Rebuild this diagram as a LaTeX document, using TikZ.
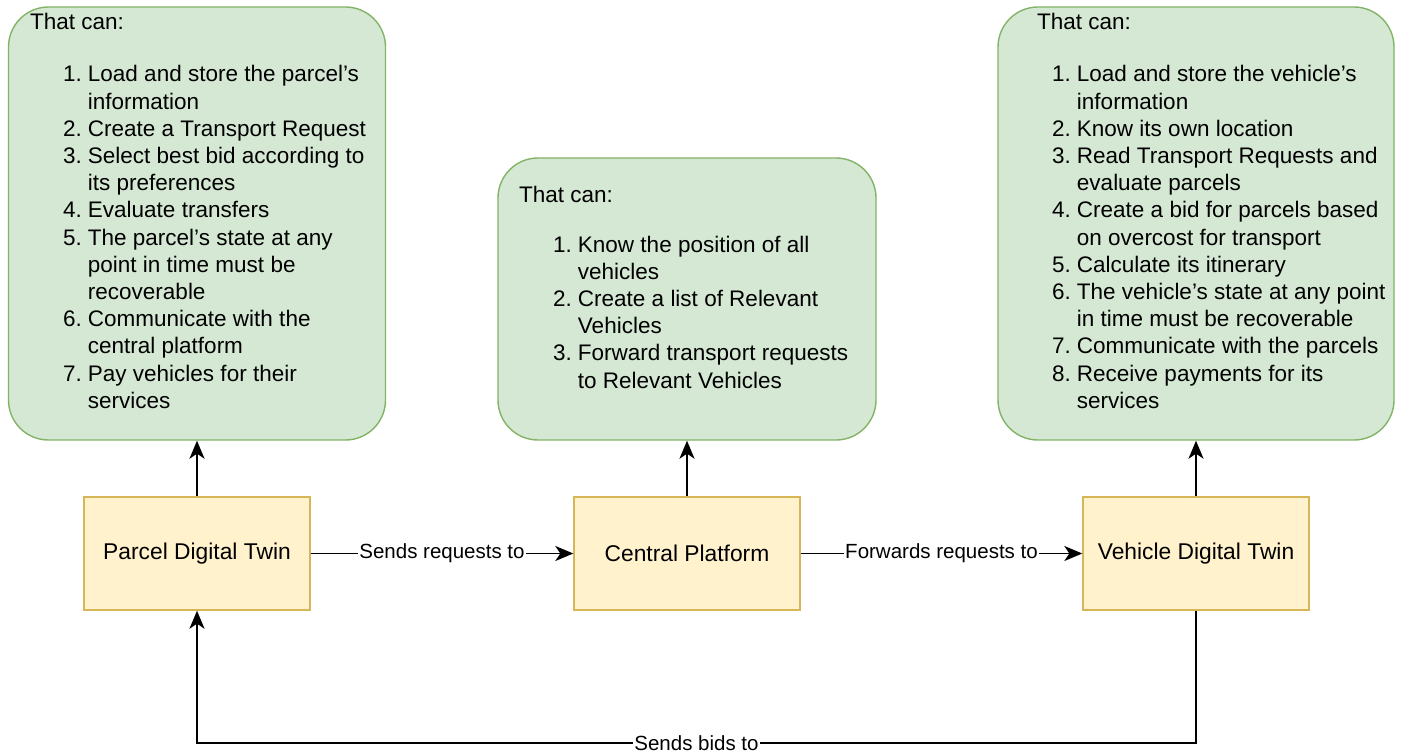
\documentclass[tikz,border=0pt]{standalone}
\usepackage{fontspec}
\setmainfont{Liberation Sans}
\usetikzlibrary{arrows.meta}
\definecolor{capfill}{HTML}{D5E8D4}
\definecolor{capline}{HTML}{82B366}
\definecolor{twinfill}{HTML}{FFF2CC}
\definecolor{twinline}{HTML}{D6B656}
\newcommand{\listfont}{\fontsize{22.5}{27.2}\selectfont}
\begin{document}
\begin{tikzpicture}[x=1pt,y=-1pt,
  capbox/.style={draw=capline,fill=capfill,line width=1.4pt,rounded corners=40pt,inner sep=0pt},
  twinbox/.style={draw=twinline,fill=twinfill,line width=1.4pt,minimum width=226pt,minimum height=113pt,
    inner sep=0pt,font=\fontsize{22.8}{27}\selectfont},
  headtxt/.style={anchor=base west,inner sep=0pt,font=\listfont},
  listtxt/.style={anchor=base west,inner sep=0pt,font=\listfont},
  arr/.style={line width=1.8pt,-{Stealth[length=18pt,width=15pt,inset=5pt]}},
  lbl/.style={fill=white,inner sep=1pt,font=\fontsize{20.5}{24}\selectfont}]
\useasboundingbox (0,0) rectangle (1402,754);

% capability panels
\node[capbox,minimum width=377pt,minimum height=433pt] (pcap) at (197,223.5) {};
\node[capbox,minimum width=378pt,minimum height=282pt] (ccap) at (687,299) {};
\node[capbox,minimum width=396pt,minimum height=433pt] (vcap) at (1196,223.5) {};

\node[headtxt] (phead) at (30,30) {That can:};
\node[listtxt] (plist) at (63,82) {\begin{tabular}[t]{@{}r@{\hspace{6pt}}l@{}}
1. & Load and store the parcel's\\
   & information\\
2. & Create a Transport Request\\
3. & Select best bid according to\\
   & its preferences\\
4. & Evaluate transfers\\
5. & The parcel's state at any\\
   & point in time must be\\
   & recoverable\\
6. & Communicate with the\\
   & central platform\\
7. & Pay vehicles for their\\
   & services
\end{tabular}};

\node[headtxt] (chead) at (519,203) {That can:};
\node[listtxt] (clist) at (553,252) {\begin{tabular}[t]{@{}r@{\hspace{6pt}}l@{}}
1. & Know the position of all\\
   & vehicles\\
2. & Create a list of Relevant\\
   & Vehicles\\
3. & Forward transport requests\\
   & to Relevant Vehicles
\end{tabular}};

\node[headtxt] (vhead) at (1037,30) {That can:};
\node[listtxt] (vlist) at (1052,82) {\begin{tabular}[t]{@{}r@{\hspace{6pt}}l@{}}
1. & Load and store the vehicle's\\
   & information\\
2. & Know its own location\\
3. & Read Transport Requests and\\
   & evaluate parcels\\
4. & Create a bid for parcels based\\
   & on overcost for transport\\
5. & Calculate its itinerary\\
6. & The vehicle's state at any point\\
   & in time must be recoverable\\
7. & Communicate with the parcels\\
8. & Receive payments for its\\
   & services
\end{tabular}};

% digital twins and platform
\node[twinbox] (parcel) at (197,553.5) {Parcel Digital Twin};
\node[twinbox] (central) at (687,553.5) {Central Platform};
\node[twinbox] (vehicle) at (1196,553.5) {Vehicle Digital Twin};

% connectors
\draw[arr] (parcel.north) -- (pcap.south);
\draw[arr] (central.north) -- (ccap.south);
\draw[arr] (vehicle.north) -- (vcap.south);
\draw[arr] (parcel.east) -- node[lbl] {Sends requests to} (central.west);
\draw[arr] (central.east) -- node[lbl] {Forwards requests to} (vehicle.west);
\coordinate (low) at (697,743);
\draw[arr] (vehicle.south) -- (vehicle.south |- low)
  -- node[lbl] {Sends bids to} (parcel.south |- low) -- (parcel.south);
\end{tikzpicture}
\end{document}
